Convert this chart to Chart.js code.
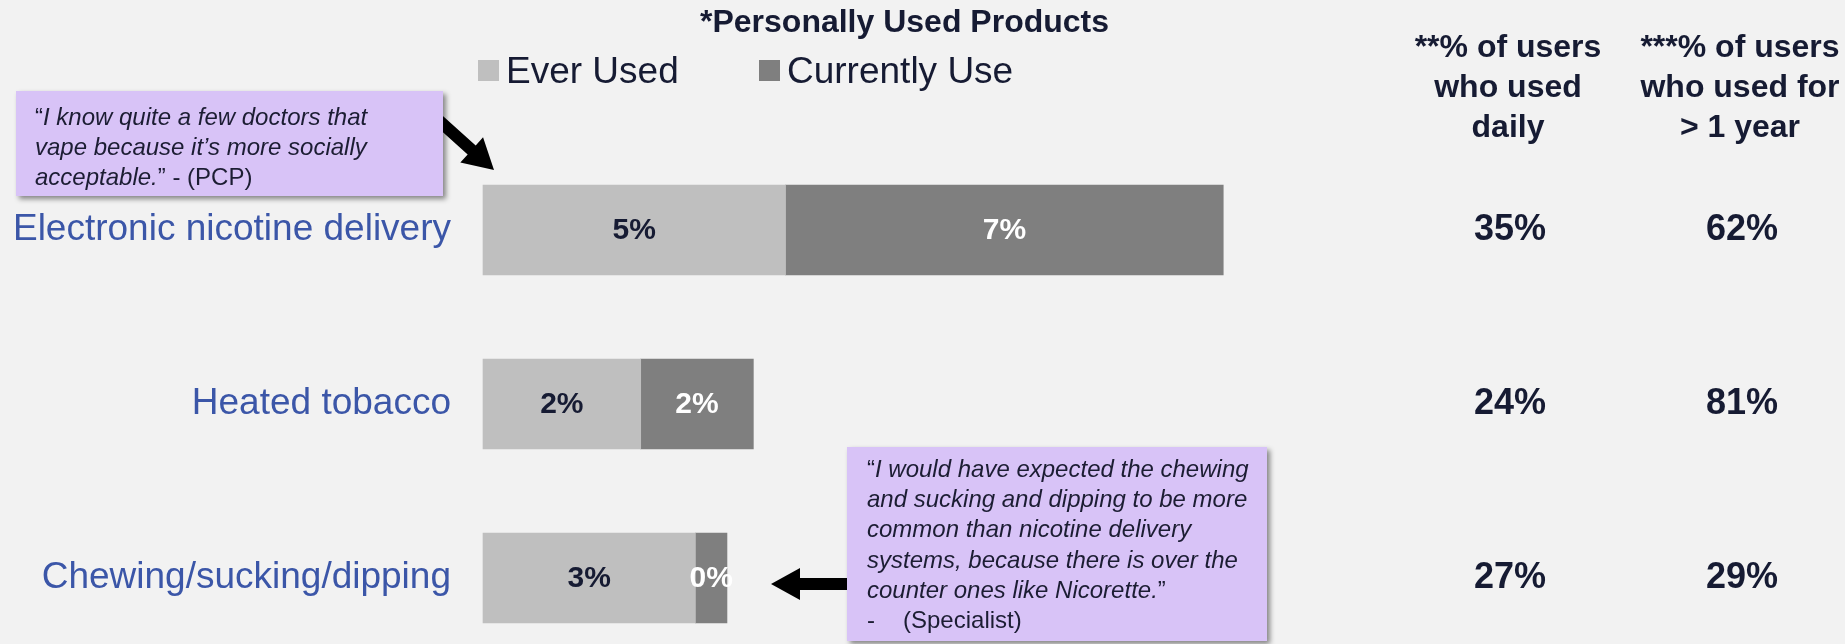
<!DOCTYPE html>
<html>
<head>
<meta charset="utf-8">
<title>Personally Used Products</title>
<script src="https://cdn.jsdelivr.net/npm/chart.js@4.4.1/dist/chart.umd.min.js"></script>
<style>
  html, body { margin: 0; padding: 0; background: #f2f2f2; }
  #wrap { position: relative; width: 1845px; height: 644px; }
</style>
</head>
<body>
<div id="wrap"><canvas id="myChart"></canvas></div>
<script>
// products and share of HCPs (in %) who personally used them
const categories = ['Electronic nicotine delivery', 'Heated tobacco', 'Chewing/sucking/dipping'];
const seriesNames = ['Ever Used', 'Currently Use'];
const everUsed = [4.7, 2.45, 3.3];
const currentlyUse = [6.8, 1.75, 0.49];

// side columns
const dailyHeader = ['**% of users', 'who used', 'daily'];
const yearHeader = ['***% of users', 'who used for', '> 1 year'];
const usedDaily = [35, 24, 27];
const usedOverYear = [62, 81, 29];

// quotes: each line is a list of [text, italic]
const quotePcp = [
  [['\u201C', false], ['I know quite a few doctors that', true]],
  [['vape because it\u2019s more socially', true]],
  [['acceptable.', true], ['\u201D - (PCP)', false]]
];
const quoteSpecialist = [
  [['\u201C', false], ['I would have expected the chewing', true]],
  [['and sucking and dipping to be more', true]],
  [['common than nicotine delivery', true]],
  [['systems, because there is over the', true]],
  [['counter ones like Nicorette.', true], ['\u201D', false]],
  [['-', false], ['\t(Specialist)', false]]
];

const FONT = '"Liberation Sans", Arial, Helvetica, sans-serif';
const NAVY = '#161b33';
const LIGHT = '#bfbfbf';
const DARK = '#7f7f7f';
const CALLOUT = '#d8c3f7';

function drawCallout(ctx, x, y, w, h, lines, textX, firstBase, lineH) {
  ctx.save();
  ctx.shadowColor = 'rgba(0,0,0,0.45)';
  ctx.shadowBlur = 5;
  ctx.shadowOffsetX = 3;
  ctx.shadowOffsetY = 3;
  ctx.fillStyle = CALLOUT;
  ctx.fillRect(x, y, w, h);
  ctx.restore();

  ctx.save();
  ctx.fillStyle = '#1c1d33';
  ctx.textBaseline = 'alphabetic';
  ctx.textAlign = 'left';
  lines.forEach((runs, i) => {
    let cx = textX;
    const by = firstBase + i * lineH;
    runs.forEach(([txt, italic]) => {
      ctx.font = (italic ? 'italic ' : '') + '24px ' + FONT;
      if (txt.startsWith('\t')) {
        txt = txt.slice(1);
        cx = textX + 36;
      }
      ctx.fillText(txt, cx, by);
      cx += ctx.measureText(txt).width;
    });
  });
  ctx.restore();
}

function drawArrow(ctx, x1, y1, x2, y2, shaft, headLen, headHalf) {
  const ang = Math.atan2(y2 - y1, x2 - x1);
  const len = Math.hypot(x2 - x1, y2 - y1);
  ctx.save();
  ctx.translate(x1, y1);
  ctx.rotate(ang);
  ctx.fillStyle = '#000';
  ctx.beginPath();
  ctx.moveTo(0, -shaft / 2);
  ctx.lineTo(len - headLen, -shaft / 2);
  ctx.lineTo(len - headLen, -headHalf);
  ctx.lineTo(len, 0);
  ctx.lineTo(len - headLen, headHalf);
  ctx.lineTo(len - headLen, shaft / 2);
  ctx.lineTo(0, shaft / 2);
  ctx.closePath();
  ctx.fill();
  ctx.restore();
}

const extrasPlugin = {
  id: 'extras',
  afterDatasetsDraw(chart) {
    const ctx = chart.ctx;
    // percent labels inside the bars
    ctx.save();
    ctx.font = 'bold 30px ' + FONT;
    ctx.textAlign = 'center';
    ctx.textBaseline = 'middle';
    chart.data.datasets.forEach((ds, di) => {
      const meta = chart.getDatasetMeta(di);
      meta.data.forEach((bar, i) => {
        ctx.fillStyle = di === 0 ? NAVY : '#ffffff';
        const cx = (bar.base + bar.x) / 2;
        ctx.fillText(Math.round(ds.data[i]) + '%', cx, bar.y + 1);
      });
    });
    ctx.restore();
  },
  afterDraw(chart) {
    const ctx = chart.ctx;
    const yScale = chart.scales.y;

    // legend
    ctx.save();
    ctx.font = '37px ' + FONT;
    ctx.textBaseline = 'middle';
    const legendX = [478, 759];
    chart.data.datasets.forEach((ds, di) => {
      ctx.fillStyle = ds.backgroundColor;
      ctx.fillRect(legendX[di], 60, 21, 21);
      ctx.fillStyle = NAVY;
      ctx.fillText(ds.label, legendX[di] + 28, 73);
    });
    ctx.restore();

    // side columns
    ctx.save();
    ctx.fillStyle = NAVY;
    ctx.textAlign = 'center';
    ctx.font = 'bold 32px ' + FONT;
    ctx.textBaseline = 'alphabetic';
    dailyHeader.forEach((t, i) => ctx.fillText(t, 1508, 57 + i * 40));
    yearHeader.forEach((t, i) => ctx.fillText(t, 1740, 57 + i * 40));
    ctx.font = 'bold 36px ' + FONT;
    ctx.textBaseline = 'middle';
    categories.forEach((c, i) => {
      const y = yScale.getPixelForValue(i);
      ctx.fillText(usedDaily[i] + '%', 1510, y);
      ctx.fillText(usedOverYear[i] + '%', 1742, y);
    });
    ctx.restore();

    // arrows sit under the callout boxes
    drawArrow(ctx, 425, 108, 494, 170, 12, 30, 17);
    drawArrow(ctx, 860, 584, 771, 584, 12, 29, 16);

    drawCallout(ctx, 16, 91, 427, 105, quotePcp, 35, 125, 30);
    drawCallout(ctx, 847, 447, 420, 194, quoteSpecialist, 867, 477, 30.2);
  }
};

const ctx = document.getElementById('myChart').getContext('2d');

const myChart = new Chart(ctx, {
  type: 'bar',
  data: {
    labels: categories,
    datasets: [{
      label: seriesNames[0],
      data: everUsed,
      backgroundColor: LIGHT,
      barThickness: 90,
      clip: false
    }, {
      label: seriesNames[1],
      data: currentlyUse,
      backgroundColor: DARK,
      barThickness: 90,
      clip: false
    }]
  },
  options: {
    indexAxis: 'y',
    responsive: true,
    maintainAspectRatio: false,
    animation: false,
    layout: {
      padding: { left: 0, right: 36, top: 0, bottom: 66 }
    },
    scales: {
      x: {
        stacked: true,
        min: 0,
        max: 20.6,
        display: false
      },
      y: {
        stacked: true,
        offset: false,
        grid: { display: false, drawTicks: false },
        border: { display: false },
        ticks: {
          color: '#3b56a8',
          padding: 32,
          font: { family: FONT, size: 37 }
        },
        afterFit(scale) {
          scale.width = 483;
        }
      }
    },
    plugins: {
      legend: { display: false },
      tooltip: { enabled: false },
      title: {
        display: true,
        text: '*Personally Used Products',
        color: NAVY,
        font: { family: FONT, size: 32, weight: 'bold' },
        padding: { top: 4, bottom: 187.6 }
      }
    }
  },
  plugins: [extrasPlugin]
});
</script>
</body>
</html>
